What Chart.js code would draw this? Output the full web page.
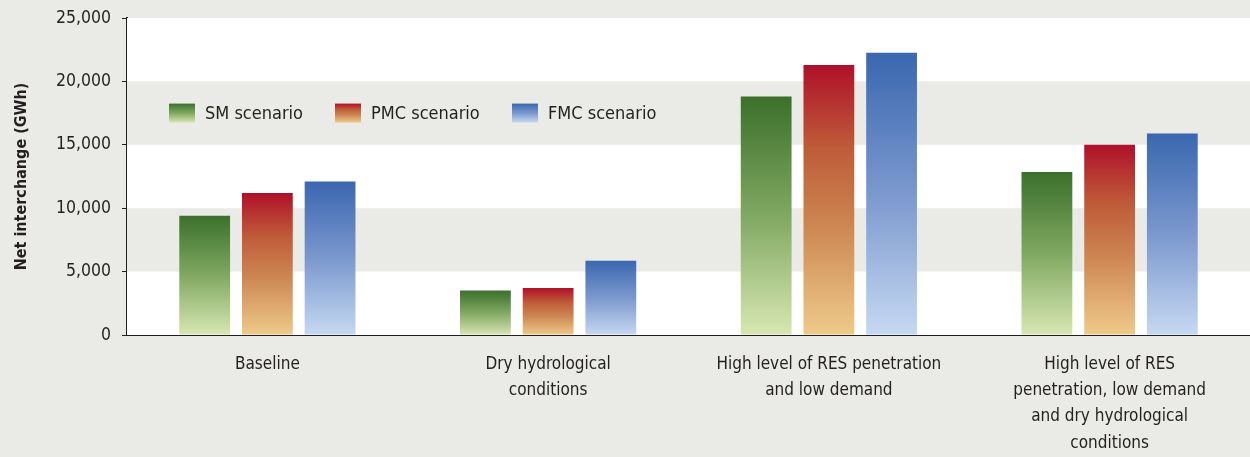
<!DOCTYPE html>
<html>
<head>
<meta charset="utf-8">
<script src="https://cdn.jsdelivr.net/npm/chart.js@4.4.1/dist/chart.umd.min.js"></script>
<style>
  html, body { margin: 0; padding: 0; background: #EAEAE6; }
  #wrap { width: 1250px; height: 457px; position: relative; }
</style>
</head>
<body>
<div id="wrap"><canvas id="c" width="1250" height="457"></canvas></div>
<script>
const categories = [
  'Baseline',
  ['Dry hydrological', 'conditions'],
  ['High level of RES penetration', 'and low demand'],
  ['High level of RES', 'penetration, low demand', 'and dry hydrological', 'conditions']
];
const seriesNames = ['SM scenario', 'PMC scenario', 'FMC scenario'];
const smValues = [9400, 3500, 18800, 12850];
const pmcValues = [11200, 3700, 21300, 15000];
const fmcValues = [12100, 5850, 22250, 15900];
const yTicks = [0, 5000, 10000, 15000, 20000, 25000];

const FONT = '"DejaVu Sans Condensed", "DejaVu Sans", sans-serif';
const TEXT = '#231F20';
const BAND = '#EAEAE6';

const gradStops = [
  [[0, '#3B702B'], [0.5, '#80A862'], [1, '#D8E7B2']],
  [[0, '#B0102A'], [0.3, '#BE5A38'], [0.6, '#CD8753'], [1, '#EECB8A']],
  [[0, '#3A67AF'], [0.5, '#7B98CE'], [1, '#C6D9F1']]
];

function makeGrad(c2d, top, bottom, stops) {
  const g = c2d.createLinearGradient(0, top, 0, bottom);
  stops.forEach(s => g.addColorStop(s[0], s[1]));
  return g;
}

function barFill(idx) {
  return function (ctx) {
    const chart = ctx.chart;
    const y = chart.scales.y;
    if (!y || ctx.type !== 'data') return gradStops[idx][0][1];
    const v = ctx.raw;
    const top = y.getPixelForValue(v);
    const bottom = y.getPixelForValue(0);
    if (!isFinite(top) || !isFinite(bottom) || top === bottom) return gradStops[idx][0][1];
    return makeGrad(chart.ctx, top, bottom, gradStops[idx]);
  };
}

const bandsPlugin = {
  id: 'bands',
  beforeDatasetsDraw(chart) {
    const { ctx, chartArea: a, scales: { y } } = chart;
    ctx.save();
    ctx.fillStyle = '#FFFFFF';
    ctx.fillRect(a.left, a.top, a.right - a.left, a.bottom - a.top);
    for (let i = 0; i < yTicks.length - 1; i++) {
      if (i % 2 === 1) {
        const t = y.getPixelForValue(yTicks[i + 1]);
        const b = y.getPixelForValue(yTicks[i]);
        ctx.fillStyle = BAND;
        ctx.fillRect(a.left, t, a.right - a.left, b - t);
      }
    }
    ctx.restore();
  }
};

const legendPlugin = {
  id: 'customLegend',
  afterDatasetsDraw(chart) {
    const { ctx, chartArea: a, scales: { y } } = chart;
    const cy = y.getPixelForValue(17500);
    const boxW = 26, boxH = 19;
    const xs = [a.left + 42, a.left + 208, a.left + 385];
    ctx.save();
    ctx.font = '18px ' + FONT;
    ctx.textBaseline = 'middle';
    ctx.fillStyle = TEXT;
    chart.data.datasets.forEach((ds, i) => {
      const x = xs[i];
      const top = cy - boxH / 2;
      ctx.fillStyle = makeGrad(ctx, top, top + boxH, gradStops[i]);
      ctx.fillRect(x, top, boxW, boxH);
      ctx.fillStyle = TEXT;
      ctx.fillText(ds.label, x + boxW + 10, cy + 1);
    });
    ctx.restore();
  }
};

new Chart(document.getElementById('c'), {
  type: 'bar',
  data: {
    labels: categories,
    datasets: [
      { label: seriesNames[0], data: smValues, backgroundColor: barFill(0) },
      { label: seriesNames[1], data: pmcValues, backgroundColor: barFill(1) },
      { label: seriesNames[2], data: fmcValues, backgroundColor: barFill(2) }
    ]
  },
  options: {
    responsive: false,
    animation: false,
    devicePixelRatio: 1,
    layout: { padding: { top: 18, right: 0, bottom: 0, left: 0 } },
    datasets: { bar: { categoryPercentage: 0.67, barPercentage: 0.81, borderWidth: 0 } },
    plugins: {
      legend: { display: false },
      tooltip: { enabled: false }
    },
    scales: {
      x: {
        grid: { display: false, drawTicks: false },
        border: { display: true, color: '#231F20', width: 2 },
        ticks: {
          color: TEXT,
          font: { family: FONT, size: 17, lineHeight: 1.55 },
          padding: 16,
          maxRotation: 0,
          autoSkip: false
        },
        afterFit(s) { s.height = 122; s.paddingLeft = 0; s.paddingRight = 0; }
      },
      y: {
        min: 0,
        max: 25000,
        afterBuildTicks(s) { s.ticks = yTicks.map(v => ({ value: v })); },
        grid: {
          drawOnChartArea: false,
          drawTicks: true,
          tickLength: 5,
          color: '#231F20',
          lineWidth: 1
        },
        border: { display: true, color: '#231F20', width: 2 },
        ticks: {
          color: TEXT,
          font: { family: FONT, size: 17.5 },
          padding: 11,
          callback: v => v.toLocaleString('en-US')
        },
        title: {
          display: true,
          text: 'Net interchange (GWh)',
          color: TEXT,
          font: { family: FONT, size: 16, weight: 'bold' },
          padding: { top: 12, bottom: 4 }
        },
        afterFit(s) { s.width = 127; s.paddingTop = 0; s.paddingBottom = 0; }
      }
    }
  },
  plugins: [bandsPlugin, legendPlugin]
});
</script>
</body>
</html>
